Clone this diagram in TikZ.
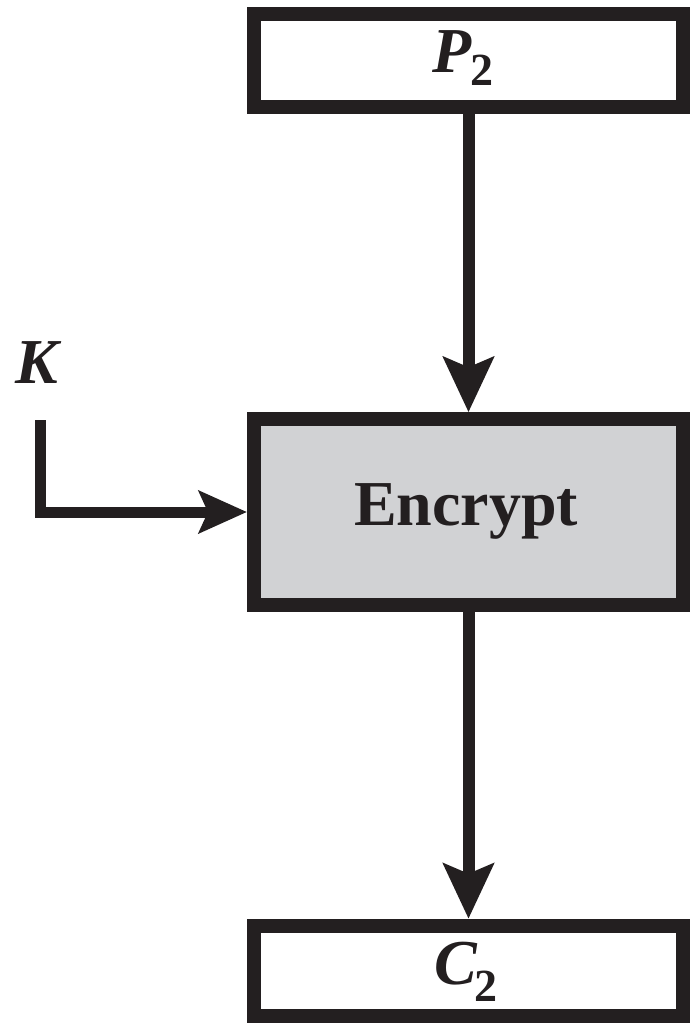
\documentclass[tikz,border=0pt]{standalone}
\usepackage{fontspec}
\setmainfont{Liberation Serif}
\usetikzlibrary{arrows.meta}
\definecolor{ink}{HTML}{231F20}
\definecolor{boxgray}{HTML}{D1D2D4}
\newcommand\subtwo[1]{\raisebox{#1}{\fontsize{23}{23}\selectfont\bfseries\upshape 2}}
\begin{document}
\begin{tikzpicture}[x=0.5pt,y=-0.5pt,
  blockbox/.style={draw=ink, line width=7pt, minimum width=214.5pt, inner sep=0pt},
  txt/.style={text=ink, font=\fontsize{32}{32}\selectfont\bfseries, anchor=base, inner sep=0pt},
  flow/.style={draw=ink, line width=6pt, line cap=butt,
    -{Stealth[length=27.5pt,width=25pt,inset=5pt]}},
  keyflow/.style={draw=ink, line width=5.5pt, line cap=butt, line join=miter,
    -{Stealth[length=24pt,width=21pt,inset=4.5pt]}},
]
\useasboundingbox (0,0) rectangle (696,1023);

% blocks
\node[blockbox, fill=white, minimum height=46.5pt] (P2) at (468.5,60.5) {};
\node[blockbox, fill=boxgray, minimum height=92.75pt] (enc) at (468.5,512) {};
\node[blockbox, fill=white, minimum height=45.25pt] (C2) at (468.5,971) {};

% texts
\node[txt] (P2txt) at (463,72) {\itshape P\kern-1pt\subtwo{-6.5pt}};
\node[txt] (enctxt) at (466,525) {Encrypt};
\node[txt] (C2txt) at (466,984) {\itshape C\kern-1pt\subtwo{-8.5pt}};
\node[txt] (K) at (37,383) {\itshape K};

% connectors
\coordinate (kstart) at (40.5,420);
\draw[flow] (P2.south) -- (enc.north);
\draw[flow] (enc.south) -- (C2.north);
\draw[keyflow] (kstart) |- (enc.west);
\end{tikzpicture}
\end{document}
